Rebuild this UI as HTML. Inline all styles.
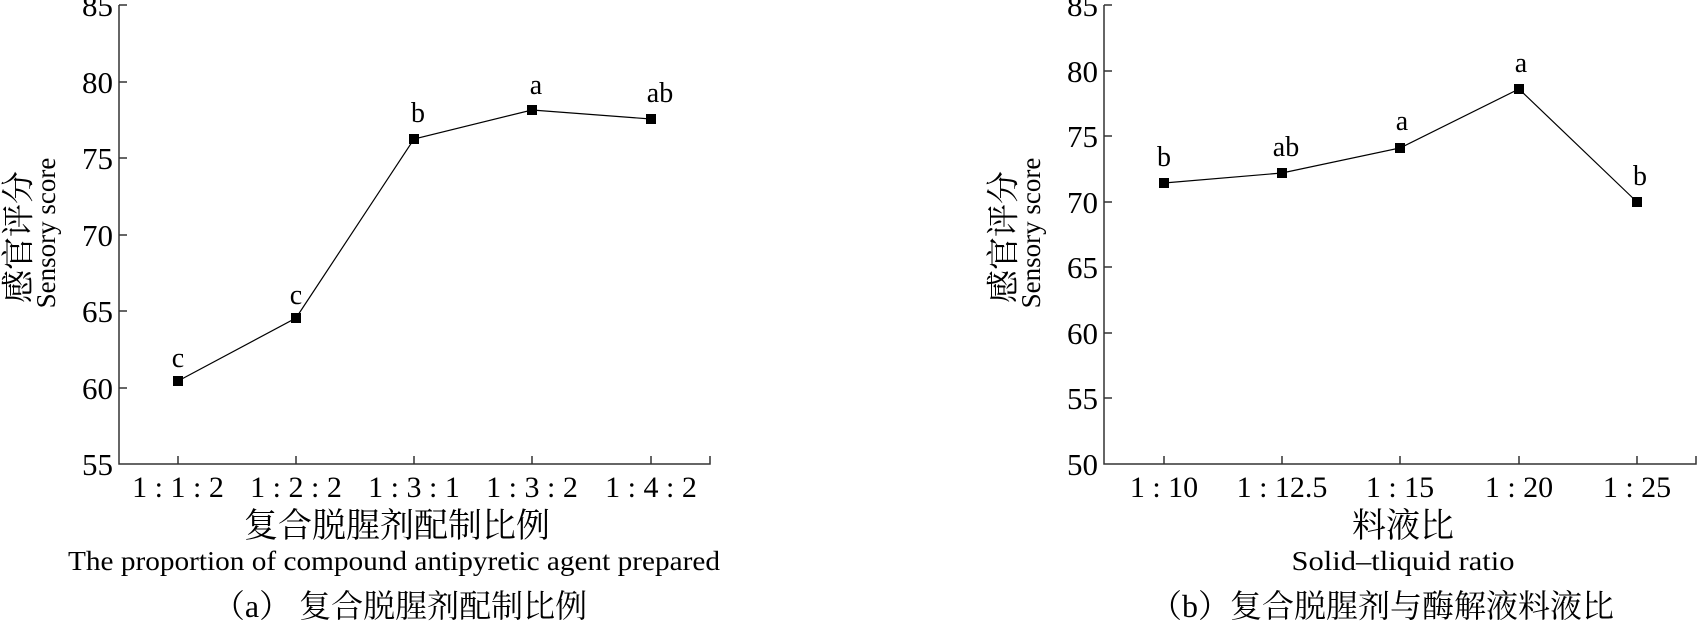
<!DOCTYPE html>
<html><head><meta charset="utf-8"><style>
html,body{margin:0;padding:0;background:#fff;}
svg{display:block;}
text{font-family:"Liberation Serif","Noto Serif CJK SC","Noto Sans CJK SC",serif;fill:#000;}
</style></head><body>
<svg width="1697" height="622" viewBox="0 0 1697 622" xmlns="http://www.w3.org/2000/svg">
<!-- LEFT CHART -->
<g stroke="#333" stroke-width="1.5" fill="none">
<polyline points="119,5 119,464 710,464 710,456"/>
<line x1="119" y1="5" x2="127" y2="5"/>
<line x1="119" y1="82" x2="127" y2="82"/>
<line x1="119" y1="158" x2="127" y2="158"/>
<line x1="119" y1="235" x2="127" y2="235"/>
<line x1="119" y1="311" x2="127" y2="311"/>
<line x1="119" y1="388" x2="127" y2="388"/>
<line x1="178" y1="464" x2="178" y2="456"/>
<line x1="296" y1="464" x2="296" y2="456"/>
<line x1="414" y1="464" x2="414" y2="456"/>
<line x1="532" y1="464" x2="532" y2="456"/>
<line x1="651" y1="464" x2="651" y2="456"/>
</g>
<g font-size="31" text-anchor="end">
<text x="113" y="16">85</text><text x="113" y="93">80</text><text x="113" y="169">75</text>
<text x="113" y="246">70</text><text x="113" y="322">65</text><text x="113" y="399">60</text><text x="113" y="475">55</text>
</g>
<g font-size="30" text-anchor="middle">
<text x="178" y="497">1 : 1 : 2</text><text x="296" y="497">1 : 2 : 2</text><text x="414" y="497">1 : 3 : 1</text>
<text x="532" y="497">1 : 3 : 2</text><text x="651" y="497">1 : 4 : 2</text>
</g>
<polyline points="178,381 296,318 414,139 532,110 651,119" stroke="#000" stroke-width="1.2" fill="none"/>
<g fill="#000">
<rect x="173" y="376" width="10" height="10"/><rect x="291" y="313" width="10" height="10"/>
<rect x="409" y="134" width="10" height="10"/><rect x="527" y="105" width="10" height="10"/>
<rect x="646" y="114" width="10" height="10"/>
</g>
<g font-size="28" text-anchor="middle">
<text x="178" y="367">c</text><text x="296" y="304">c</text><text x="418" y="122">b</text>
<text x="536" y="94">a</text><text x="660" y="102">ab</text>
</g>
<g transform="translate(22,237) rotate(-90)"><text x="0" y="0" font-size="33" text-anchor="middle" dominant-baseline="middle">感官评分</text></g>
<g transform="translate(49,233) rotate(-90)"><text x="0" y="0" font-size="27" text-anchor="middle" dominant-baseline="middle">Sensory score</text></g>
<text x="397" y="537" font-size="34" text-anchor="middle">复合脱腥剂配制比例</text>
<text x="394" y="570" font-size="27" text-anchor="middle" textLength="652" lengthAdjust="spacingAndGlyphs">The proportion of compound antipyretic agent prepared</text>
<text x="400" y="617" font-size="32" text-anchor="middle">（a） 复合脱腥剂配制比例</text>

<!-- RIGHT CHART -->
<g stroke="#333" stroke-width="1.5" fill="none">
<polyline points="1104,5 1104,464 1696,464 1696,456"/>
<line x1="1104" y1="5" x2="1112" y2="5"/>
<line x1="1104" y1="71" x2="1112" y2="71"/>
<line x1="1104" y1="136" x2="1112" y2="136"/>
<line x1="1104" y1="202" x2="1112" y2="202"/>
<line x1="1104" y1="267" x2="1112" y2="267"/>
<line x1="1104" y1="333" x2="1112" y2="333"/>
<line x1="1104" y1="398" x2="1112" y2="398"/>
<line x1="1164" y1="464" x2="1164" y2="456"/>
<line x1="1282" y1="464" x2="1282" y2="456"/>
<line x1="1400" y1="464" x2="1400" y2="456"/>
<line x1="1519" y1="464" x2="1519" y2="456"/>
<line x1="1637" y1="464" x2="1637" y2="456"/>
</g>
<g font-size="31" text-anchor="end">
<text x="1098" y="16">85</text><text x="1098" y="82">80</text><text x="1098" y="147">75</text>
<text x="1098" y="213">70</text><text x="1098" y="278">65</text><text x="1098" y="344">60</text>
<text x="1098" y="409">55</text><text x="1098" y="475">50</text>
</g>
<g font-size="30" text-anchor="middle">
<text x="1164" y="497">1 : 10</text><text x="1282" y="497">1 : 12.5</text><text x="1400" y="497">1 : 15</text>
<text x="1519" y="497">1 : 20</text><text x="1637" y="497">1 : 25</text>
</g>
<polyline points="1164,183 1282,173 1400,148 1519,89 1637,202" stroke="#000" stroke-width="1.2" fill="none"/>
<g fill="#000">
<rect x="1159" y="178" width="10" height="10"/><rect x="1277" y="168" width="10" height="10"/>
<rect x="1395" y="143" width="10" height="10"/><rect x="1514" y="84" width="10" height="10"/>
<rect x="1632" y="197" width="10" height="10"/>
</g>
<g font-size="28" text-anchor="middle">
<text x="1164" y="166">b</text><text x="1286" y="156">ab</text><text x="1402" y="130">a</text>
<text x="1521" y="72">a</text><text x="1640" y="185">b</text>
</g>
<g transform="translate(1007,237) rotate(-90)"><text x="0" y="0" font-size="33" text-anchor="middle" dominant-baseline="middle">感官评分</text></g>
<g transform="translate(1034,233) rotate(-90)"><text x="0" y="0" font-size="27" text-anchor="middle" dominant-baseline="middle">Sensory score</text></g>
<text x="1403" y="537" font-size="34" text-anchor="middle">料液比</text>
<text x="1403" y="570" font-size="27" text-anchor="middle" textLength="223" lengthAdjust="spacingAndGlyphs">Solid–tliquid ratio</text>
<text x="1382" y="617" font-size="32" text-anchor="middle">（b）复合脱腥剂与酶解液料液比</text>
</svg>
</body></html>
